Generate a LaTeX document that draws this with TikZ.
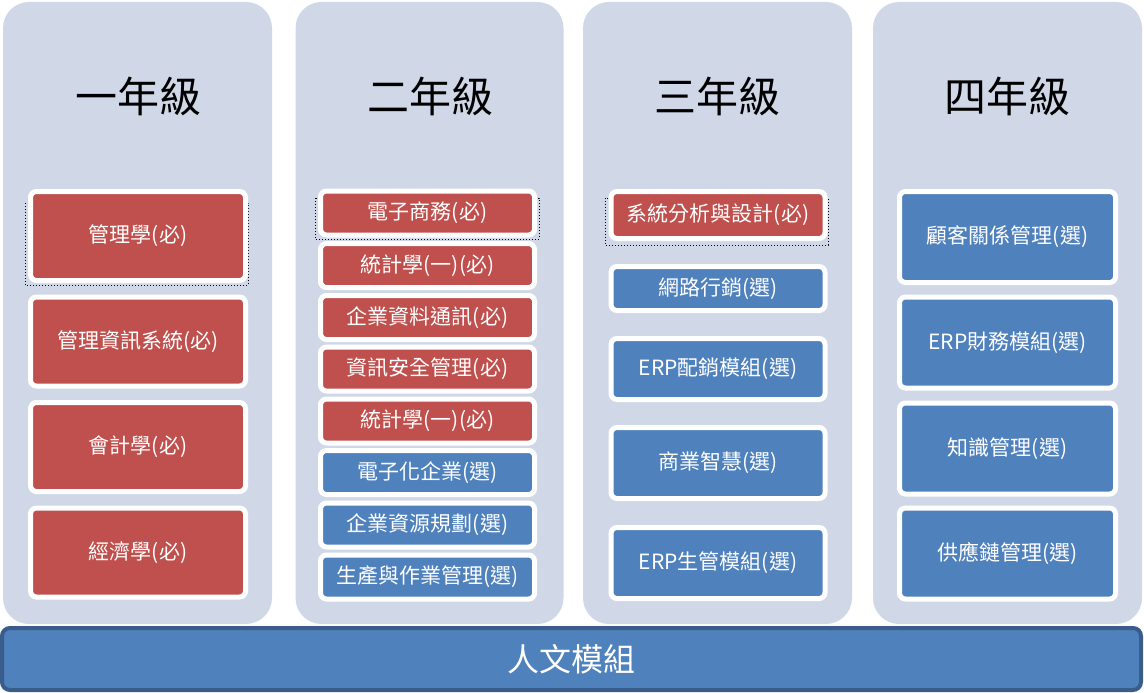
\documentclass[tikz,border=0pt]{standalone}
\usepackage{fontspec}
\setmainfont{Noto Sans CJK TC}
\definecolor{bgcol}{HTML}{D0D8E8}
\definecolor{reqred}{HTML}{C0504D}
\definecolor{optblue}{HTML}{4F81BD}
\definecolor{barborder}{HTML}{385D8A}
\begin{document}
\begin{tikzpicture}[x=1pt,y=-1pt,
  colbg/.style={fill=bgcol, draw=none, rounded corners=26pt, inner sep=0pt},
  course/.style={draw=white, line width=5pt, rounded corners=6pt, text=white,
    font=\fontsize{21}{25}\selectfont, inner sep=0pt},
  req/.style={course, fill=reqred},
  opt/.style={course, fill=optblue},
  yeartitle/.style={font=\fontsize{42}{50}\selectfont, text=black, inner sep=0pt},
  marquee/.style={draw=black, line width=1pt, dotted},
  barbox/.style={fill=optblue, draw=barborder, line width=4pt, rounded corners=8pt,
    text=white, font=\fontsize{32}{38}\selectfont, inner sep=0pt}]
\useasboundingbox (0,0) rectangle (1144,693);

% column backdrops
\node[colbg, minimum width=269pt, minimum height=622pt] (c1) at (137.5,313) {};
\node[colbg, minimum width=268pt, minimum height=622pt] (c2) at (429.5,313) {};
\node[colbg, minimum width=269pt, minimum height=622pt] (c3) at (717.5,313) {};
\node[colbg, minimum width=269pt, minimum height=622pt] (c4) at (1007.5,313) {};

% titles
\node[yeartitle] (t1) at (138,96) {一年級};
\node[yeartitle] (t2) at (430,96) {二年級};
\node[yeartitle] (t3) at (717,96) {三年級};
\node[yeartitle] (t4) at (1007,96) {四年級};

% dotted selection marks
\draw[marquee] (25,203) rectangle (248,285);
\draw[marquee] (315,198) rectangle (539,239);
\draw[marquee] (605,198) rectangle (828,245);

% column 1
\begin{scope}[every node/.append style={minimum width=215pt, minimum height=89pt}]
\node[req] (a1) at (138,236) {管理學(必)};
\node[req] (a2) at (138,341.5) {管理資訊系統(必)};
\node[req] (a3) at (138,447) {會計學(必)};
\node[req] (a4) at (138,552.5) {經濟學(必)};
\end{scope}

% column 2
\begin{scope}[every node/.append style={minimum width=214pt, minimum height=44pt}]
\node[req] (b1) at (427.5,213) {電子商務(必)};
\node[req] (b2) at (427.5,265.5) {統計學(一)(必)};
\node[req] (b3) at (427.5,317.5) {企業資料通訊(必)};
\node[req] (b4) at (427.5,369) {資訊安全管理(必)};
\node[req] (b5) at (427.5,421) {統計學(一)(必)};
\node[opt] (b6) at (427.5,472.5) {電子化企業(選)};
\node[opt] (b7) at (427.5,525) {企業資源規劃(選)};
\node[opt] (b8) at (427.5,577) {生產與作業管理(選)};
\end{scope}

% column 3
\begin{scope}[every node/.append style={minimum width=214pt}]
\node[req, minimum height=47pt] (d1) at (718,215) {系統分析與設計(必)};
\node[opt, minimum height=44pt] (d2) at (718,288.5) {網路行銷(選)};
\node[opt, minimum height=61pt] (d3) at (718,369) {ERP配銷模組(選)};
\node[opt, minimum height=71pt] (d4) at (718,463) {商業智慧(選)};
\node[opt, minimum height=71pt] (d5) at (718,563) {ERP生管模組(選)};
\end{scope}

% column 4
\begin{scope}[every node/.append style={minimum width=216pt, minimum height=91pt}]
\node[opt] (e1) at (1007.5,237) {顧客關係管理(選)};
\node[opt] (e2) at (1007.5,342.5) {ERP財務模組(選)};
\node[opt] (e3) at (1007.5,448.5) {知識管理(選)};
\node[opt] (e4) at (1007.5,553.5) {供應鏈管理(選)};
\end{scope}

% bottom bar
\node[barbox, minimum width=1139pt, minimum height=62pt] (bar) at (571.5,659) {人文模組};
\end{tikzpicture}
\end{document}
